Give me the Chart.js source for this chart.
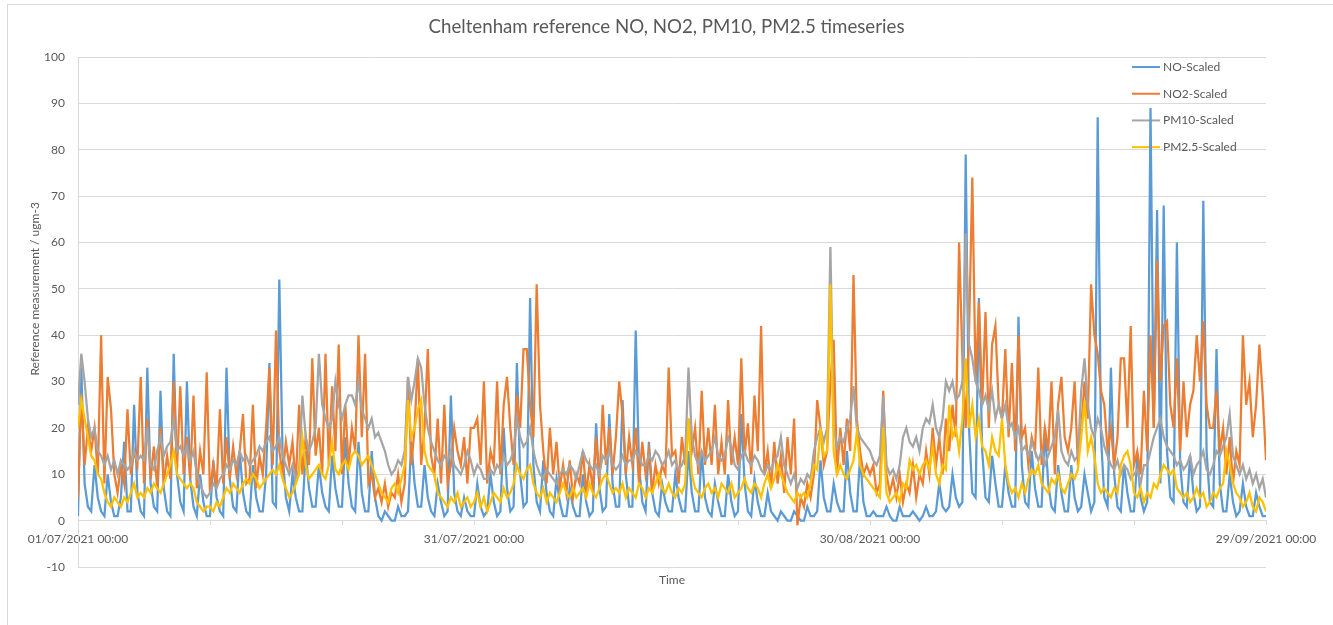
<!DOCTYPE html>
<html>
<head>
<meta charset="utf-8">
<title>Cheltenham reference NO, NO2, PM10, PM2.5 timeseries</title>
<script src="https://cdn.jsdelivr.net/npm/chart.js@4.4.1/dist/chart.umd.min.js"></script>
<style>
  html, body { margin: 0; padding: 0; background: #fff; overflow: hidden; }
  .frame { position: absolute; left: 7px; top: 4px; width: 1400px; height: 700px; border: 1px solid #d9d9d9; }
  .chart-box { position: absolute; left: 0; top: 0; width: 1333px; height: 625px; }
</style>
</head>
<body>
<div class="frame"></div>
<div class="chart-box"><canvas id="chart"></canvas></div>
<script>
const FONT = 'Lato, "Open Sans", sans-serif';
const TEXT = '#595959';
const GRID = '#d9d9d9';

const seriesNames = ['NO-Scaled', 'NO2-Scaled', 'PM10-Scaled', 'PM2.5-Scaled'];
const seriesColors = ['#5b9bd5', '#ed7d31', '#a5a5a5', '#ffc000'];
const xTickLabels = ['01/07/2021 00:00', '31/07/2021 00:00', '30/08/2021 00:00', '29/09/2021 00:00'];
const samplesPerDay = 4; // 6-hourly readings from 01/07/2021 00:00

// one line = 5 days (4 readings a day)
const noScaled = [
  1,33,8,3, 2,12,5,2, 1,10,4,1, 1,5,17,2, 2,25,6,2,
  1,33,8,3, 2,28,7,2, 1,36,10,4, 2,30,9,3, 1,10,4,1,
  1,13,5,2, 1,33,9,3, 2,15,6,2, 1,12,5,2, 2,10,34,4,
  3,52,14,5, 2,10,5,2, 2,15,7,3, 3,12,6,3, 2,14,7,3,
  3,18,8,3, 2,17,6,2, 2,15,5,1, 0,2,1,0, 0,3,1,1,
  2,17,8,3, 3,12,5,2, 1,8,4,1, 2,27,6,2, 1,5,2,1,
  1,8,3,1, 2,10,4,1, 2,20,7,2, 3,34,10,3, 4,48,12,4,
  2,13,6,2, 1,9,4,1, 1,7,3,1, 1,10,4,1, 2,21,7,2,
  3,23,8,3, 3,26,10,3, 3,41,12,4, 2,17,6,2, 1,8,4,2,
  2,10,5,2, 2,15,6,2, 2,15,5,2, 1,8,4,1, 1,10,4,1,
  2,23,8,2, 1,9,4,1, 1,6,2,1, 0,2,1,0, 0,2,1,0,
  0,3,1,1, 2,13,5,2, 2,8,4,2, 2,15,6,2, 2,14,4,1,
  1,2,1,1, 1,3,1,0, 0,3,1,1, 1,2,1,0, 1,3,1,1,
  2,8,3,2, 3,10,5,3, 4,79,20,6, 5,48,15,5, 4,14,8,3,
  3,12,6,3, 3,44,12,4, 3,15,7,3, 3,20,8,3, 2,12,6,2,
  2,12,5,2, 3,10,6,2, 4,87,18,5, 3,33,10,3, 2,12,6,2,
  2,14,5,2, 4,89,20,67, 8,68,15,5, 4,60,12,4, 3,14,6,2,
  3,69,15,4, 3,37,8,2, 2,10,4,1, 2,8,3,1, 1,6,3,1,
  1
];

const no2Scaled = [
  5,27,12,20, 15,20,10,40, 8,31,24,10, 6,12,8,24, 10,15,12,31,
  8,22,9,16, 7,20,8,14, 9,30,11,29, 10,18,9,27, 7,15,10,32,
  6,12,7,24, 8,18,9,16, 10,15,23,8, 9,25,7,14, 10,20,33,12,
  41,15,10,17, 12,17,8,25, 10,18,12,35, 14,20,10,36, 12,29,15,38,
  10,25,12,20, 15,40,18,36, 8,10,5,7, 4,8,3,6, 5,10,4,8,
  31,12,20,35, 12,20,37,14, 10,22,8,25, 8,12,20,15, 12,18,8,20,
  20,22,12,30, 8,15,12,30, 10,25,31,20, 12,27,20,37, 37,25,18,51,
  25,15,8,20, 10,17,7,12, 6,13,5,10, 8,15,6,12, 7,18,8,25,
  12,20,10,18, 30,23,10,18, 12,20,8,17, 10,15,6,12, 8,12,10,33,
  14,15,8,18, 12,22,15,20, 10,28,12,20, 12,25,10,17, 10,26,12,18,
  12,35,14,21, 10,27,15,42, 10,15,7,17, 8,14,6,18, 10,22,-1,5,
  3,8,5,10, 26,20,12,15, 30,39,10,20, 12,22,15,53, 22,15,10,12,
  10,12,6,8, 28,10,6,9, 5,10,4,8, 6,12,5,10, 8,15,10,20,
  12,18,10,22, 15,25,18,60, 35,20,40,74, 30,47,25,45, 20,38,42,25,
  22,37,18,34, 15,40,18,20, 12,18,15,33, 12,20,15,30, 10,25,31,18,
  15,20,30,12, 20,30,22,51, 40,36,28,25, 15,20,12,18, 35,35,20,42,
  12,15,10,28, 15,40,20,56, 30,42,43,25, 20,35,15,30, 18,25,28,40,
  30,43,25,20, 20,28,15,20, 10,18,8,15, 12,40,25,30, 18,25,38,27,
  13
];

const pm10Scaled = [
  25,36,30,22, 18,20,15,14, 12,14,11,13, 10,13,12,11, 12,15,13,14,
  13,20,12,11, 15,18,14,16, 17,22,15,16, 14,16,13,15, 10,8,6,5,
  6,8,7,9, 10,12,11,13, 12,15,13,14, 12,13,14,16, 15,17,18,15,
  16,18,14,12, 10,12,9,11, 27,18,15,17, 20,36,25,22, 20,22,30,25,
  22,25,27,27, 25,30,24,22, 20,22,18,19, 17,15,12,10, 11,13,12,15,
  31,26,30,35, 33,25,20,17, 15,13,12,14, 13,15,12,11, 10,12,15,13,
  10,12,11,9, 9,11,10,12, 11,14,12,13, 15,22,18,16, 17,20,15,12,
  10,9,11,10, 9,8,10,11, 10,12,11,9, 12,15,13,12, 11,12,10,14,
  13,15,12,11, 12,14,12,13, 13,15,14,12, 12,14,13,15, 14,12,13,15,
  12,13,11,12, 14,33,18,14, 12,15,13,14, 15,18,14,13, 14,18,16,12,
  11,14,15,13, 12,14,13,11, 10,12,11,13, 14,18,12,10, 8,10,7,9,
  8,10,9,15, 18,20,17,20, 59,20,16,18, 17,20,22,29, 20,18,17,16,
  15,13,12,14, 27,12,10,11, 9,12,18,20, 17,16,18,15, 20,22,21,25,
  20,18,22,30, 28,30,26,27, 30,62,38,35, 30,28,25,27, 24,28,22,25,
  22,25,20,21, 18,20,15,16, 14,17,15,13, 15,12,14,16, 18,24,15,13,
  12,15,13,14, 28,35,25,20, 18,22,20,16, 14,12,11,13, 10,12,11,9,
  10,11,8,12, 12,15,18,20, 22,18,16,15, 14,12,13,11, 12,14,10,12,
  13,15,11,10, 12,15,14,16, 18,23,14,12, 10,12,9,11, 8,10,7,9,
  5
];

const pm25Scaled = [
  20,26,22,18, 14,13,10,9, 6,4,3,5, 4,3,5,4, 6,8,5,6,
  5,7,6,8, 7,6,8,10, 12,15,10,9, 8,7,8,7, 4,3,2,3,
  3,2,4,3, 5,7,6,8, 7,6,8,9, 8,10,9,7, 8,9,10,11,
  10,12,9,7, 5,6,8,10, 18,12,9,10, 11,12,10,9, 12,17,11,10,
  12,13,11,14, 15,14,12,13, 14,12,10,8, 6,5,4,7, 8,6,9,12,
  26,18,20,24, 26,15,12,11, 10,6,5,4, 3,5,4,6, 3,4,5,3,
  4,6,3,5, 2,4,6,5, 4,7,5,6, 8,12,10,9, 11,12,8,6,
  5,7,4,6, 5,4,6,8, 6,5,7,5, 6,7,5,8, 6,5,7,9,
  10,8,6,7, 6,8,5,7, 6,5,8,7, 5,7,6,8, 10,7,6,8,
  6,5,7,6, 8,22,10,7, 6,5,7,8, 6,7,5,8, 7,6,8,5,
  6,7,9,7, 6,8,7,5, 8,10,7,9, 12,10,8,6, 5,4,6,5,
  6,5,8,12, 11,20,14,15, 51,15,10,12, 10,9,11,13, 19,12,10,9,
  8,7,6,5, 20,6,4,5, 6,4,8,7, 13,11,12,10, 12,13,11,16,
  10,8,12,11, 25,18,20,15, 22,35,20,25, 18,22,16,15, 12,18,15,14,
  22,12,8,6, 7,5,8,6, 9,11,10,12, 8,7,6,9, 8,10,7,6,
  8,10,9,11, 18,26,15,18, 14,8,6,7, 6,5,7,6, 12,14,15,12,
  6,5,7,4, 6,5,8,7, 10,12,11,10, 11,7,6,5, 6,4,5,7,
  5,6,3,4, 6,5,7,8, 15,12,8,6, 5,3,4,6, 3,2,5,4,
  2
];

const seriesValues = [noScaled, no2Scaled, pm10Scaled, pm25Scaled];

function toPoints(values) {
  return values.map((v, i) => ({ x: i / samplesPerDay, y: v }));
}

// legend sits inside the plot, top right, under the lines
const insideLegend = {
  id: 'insideLegend',
  beforeDatasetsDraw(chart) {
    const { ctx, chartArea } = chart;
    const x0 = chartArea.right - 134;
    ctx.save();
    ctx.font = `12px ${FONT}`;
    ctx.textBaseline = 'middle';
    ctx.textAlign = 'left';
    chart.data.datasets.forEach((ds, i) => {
      const y = chartArea.top + 10 + i * 26.7;
      ctx.strokeStyle = ds.borderColor;
      ctx.lineWidth = 2;
      ctx.beginPath();
      ctx.moveTo(x0, y);
      ctx.lineTo(x0 + 28, y);
      ctx.stroke();
      ctx.fillStyle = TEXT;
      ctx.fillText(ds.label, x0 + 31, y);
    });
    ctx.restore();
  },
};

const axisTitles = {
  id: 'axisTitles',
  afterDraw(chart) {
    const { ctx, chartArea, scales } = chart;
    ctx.save();
    ctx.fillStyle = TEXT;
    ctx.font = `12px ${FONT}`;
    ctx.textAlign = 'center';
    ctx.textBaseline = 'middle';
    ctx.fillText('Time', (chartArea.left + chartArea.right) / 2, chartArea.bottom + 13);
    ctx.translate(35, (chartArea.top + scales.y.getPixelForValue(0)) / 2);
    ctx.rotate(-Math.PI / 2);
    ctx.fillText('Reference measurement / ugm-3', 0, 0);
    ctx.restore();
  },
};

new Chart(document.getElementById('chart'), {
  type: 'line',
  data: {
    datasets: seriesNames.map((name, i) => ({
      label: name,
      data: toPoints(seriesValues[i]),
      borderColor: seriesColors[i],
      backgroundColor: seriesColors[i],
      borderWidth: 2.25,
      pointRadius: 0,
      tension: 0,
      order: seriesNames.length - 1 - i,
    })),
  },
  options: {
    responsive: true,
    maintainAspectRatio: false,
    animation: false,
    layout: { padding: { left: 0, right: 0, top: 0, bottom: 58 } },
    plugins: {
      legend: { display: false },
      tooltip: { enabled: false },
      title: {
        display: true,
        text: 'Cheltenham reference NO, NO2, PM10, PM2.5 timeseries',
        color: TEXT,
        font: { family: FONT, size: 18.7, weight: 'normal' },
        padding: { top: 16, bottom: 18.6 },
      },
    },
    scales: {
      x: {
        type: 'linear',
        position: { y: 0 },
        min: 0,
        max: 90,
        afterFit: (s) => { s.paddingLeft = 0; s.paddingRight = 0; },
        ticks: {
          stepSize: 10,
          autoSkip: false,
          maxRotation: 0,
          padding: 7,
          color: TEXT,
          font: { family: FONT, size: 12 },
          callback: (v) => (v % 30 === 0 ? xTickLabels[v / 30] : ''),
        },
        grid: { drawOnChartArea: false, drawTicks: true, tickLength: 4, color: GRID },
        border: { color: GRID },
      },
      y: {
        min: -10,
        max: 100,
        afterFit: (s) => { s.width = 78; s.paddingTop = 0; s.paddingBottom = 0; },
        ticks: {
          stepSize: 10,
          padding: 13,
          color: TEXT,
          font: { family: FONT, size: 12 },
        },
        grid: { color: GRID, drawTicks: false },
        border: { color: GRID },
      },
      // empty right-hand box: keeps the plot short of the right edge while the title stays page-centred
      yRight: {
        position: 'right',
        min: -10,
        max: 100,
        afterFit: (s) => { s.width = 67; s.paddingTop = 0; s.paddingBottom = 0; },
        ticks: { display: false },
        grid: { display: false },
        border: { display: false },
      },
    },
  },
  plugins: [insideLegend, axisTitles],
});
</script>
</body>
</html>
